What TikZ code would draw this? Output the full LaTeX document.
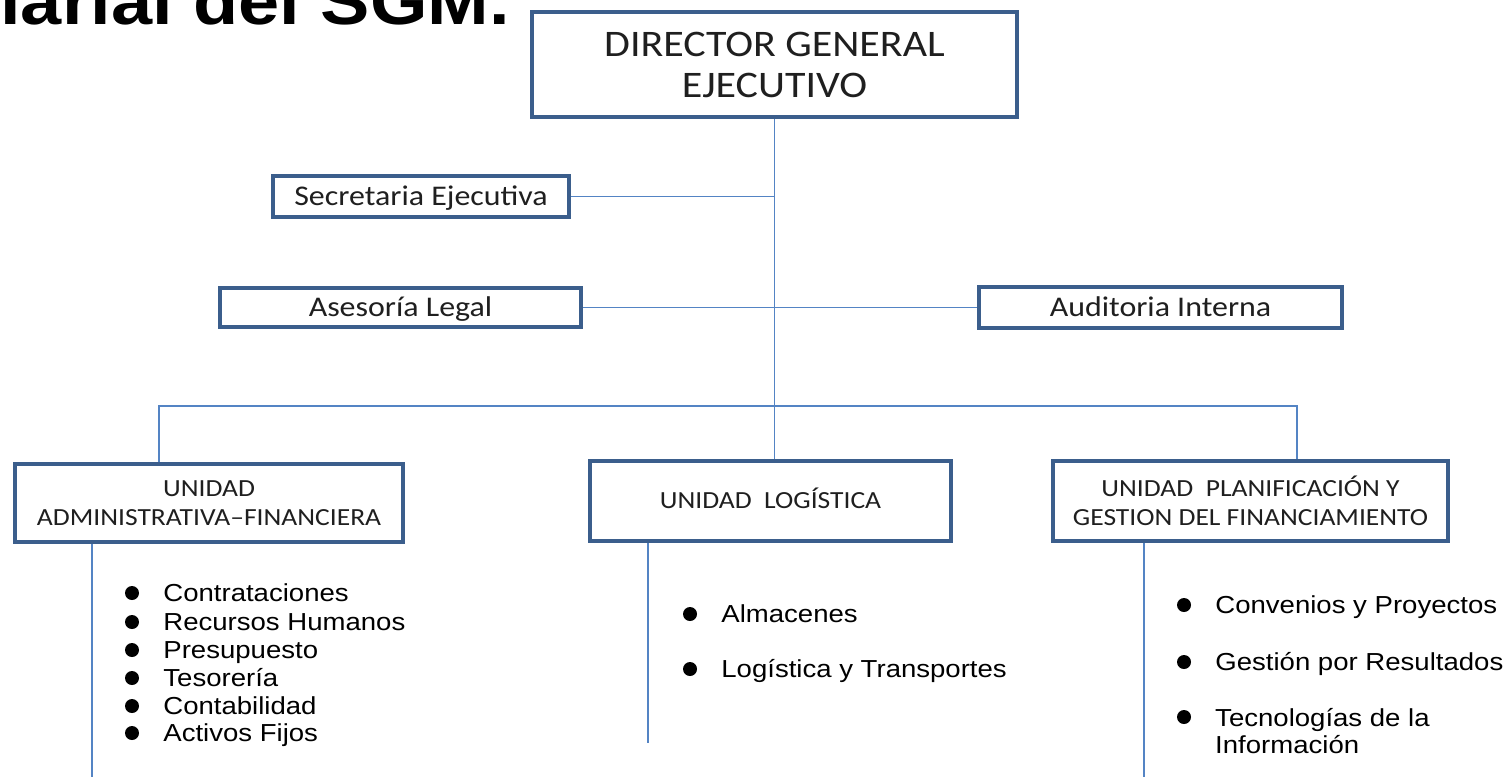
\documentclass[tikz,border=0pt]{standalone}
\usepackage{fontspec}
\setmainfont[FakeStretch=1.12]{Carlito}
\newfontfamily\arialfont[FakeStretch=1.12]{Liberation Sans}
\usepackage{tikz}
\usetikzlibrary{positioning}
\definecolor{box blue}{RGB}{59,94,140}
\definecolor{line blue}{RGB}{84,132,196}

\begin{document}
\begin{tikzpicture}[x = 1pt, y = -1pt,
		unit/.style = {draw = box blue, line width = 4pt, fill = white, align = center, inner sep = 0pt, text = black!88},
		oneline/.style = {text height = #1, text depth = 0pt},
		link/.style = {draw = line blue, line width = 1.3pt},
		listtext/.style = {inner sep = 0pt, font = \arialfont\fontsize{24.6}{27}\selectfont},
		item/.style = {listtext, anchor = west, text height = 17.6pt, text depth = 0pt},
		bulletdot/.style = {circle, fill = black, minimum size = 14pt, inner sep = 0pt}]
		\useasboundingbox (0, 0) rectangle (1509, 777);
		\clip (0, 0) rectangle (1509, 777);
		% title, cut by the top edge
		\node [anchor = base east, inner sep = 0pt, font = \arialfont\bfseries\fontsize{66}{70}\selectfont] (title) at (510, 24) {iarial del SGM.};
		% boxes
		\node [unit, minimum width = 485, minimum height = 105, font = \fontsize{37.5}{41}\selectfont] (dir) at (774.5, 64.5) {DIRECTOR GENERAL\\EJECUTIVO};
		\node [unit, oneline = 18.4pt, minimum width = 296, minimum height = 41, font = \fontsize{28.5}{32}\selectfont] (sec) at (421, 196.5) {Secretaria Ejecutiva};
		\node [unit, oneline = 18.4pt, minimum width = 361, minimum height = 39, font = \fontsize{28.5}{32}\selectfont] (leg) at (400.5, 307.5) {Asesoría Legal};
		\node [unit, oneline = 18.4pt, minimum width = 363, minimum height = 41, font = \fontsize{28.5}{32}\selectfont] (aud) at (1160.5, 307.5) {Auditoria Interna};
		\node [unit, minimum width = 388, minimum height = 78, font = \fontsize{24.6}{28.5}\selectfont] (adm) at (209, 503) {UNIDAD\\ADMINISTRATIVA--FINANCIERA};
		\node [unit, oneline = 15.8pt, minimum width = 361, minimum height = 80, font = \fontsize{24.6}{28.5}\selectfont] (log) at (770.5, 501) {UNIDAD\ \ LOGÍSTICA};
		\node [unit, minimum width = 395, minimum height = 80, font = \fontsize{24.6}{28.5}\selectfont] (pla) at (1250.5, 501) {UNIDAD\ \ PLANIFICACIÓN Y\\GESTION DEL FINANCIAMIENTO};
		% connectors
		\coordinate (bus left) at (159, 406);
		\coordinate (bus right) at (1297, 406);
		\coordinate (adm end) at (92, 777);
		\coordinate (log end) at (648, 743);
		\coordinate (pla end) at (1144, 777);
		\draw [link] (dir.south) -- (dir.south |- log.north);
		\draw [link] (sec) -- (sec -| dir.south);
		\draw [link] (leg) -- (aud);
		\draw [link] (bus left |- adm.north) -- (bus left) -- (bus right) -- (bus right |- pla.north);
		\draw [link] (adm end |- adm.south) -- (adm end);
		\draw [link] (log end |- log.south) -- (log end);
		\draw [link] (pla end |- pla.south) -- (pla end);
		% list under UNIDAD ADMINISTRATIVA
		\node [bulletdot] (b1) at (132, 593) {};
		\node [item, right = 24pt of b1] (contrat) {Contrataciones};
		\node [bulletdot] (b2) at (132, 622) {};
		\node [item, right = 24pt of b2] (rrhh) {Recursos Humanos};
		\node [bulletdot] (b3) at (132, 650) {};
		\node [item, right = 24pt of b3] (presu) {Presupuesto};
		\node [bulletdot] (b4) at (132, 678) {};
		\node [item, right = 24pt of b4] (teso) {Tesorería};
		\node [bulletdot] (b5) at (132, 706) {};
		\node [item, right = 24pt of b5] (conta) {Contabilidad};
		\node [bulletdot] (b6) at (132, 733) {};
		\node [item, right = 24pt of b6] (activos) {Activos Fijos};
		% list under UNIDAD LOGISTICA
		\node [bulletdot] (b7) at (690, 614) {};
		\node [item, right = 24pt of b7] (almacen) {Almacenes};
		\node [bulletdot] (b8) at (690, 669) {};
		\node [item, right = 24pt of b8] (transp) {Logística y Transportes};
		% list under UNIDAD PLANIFICACION
		\node [bulletdot] (b9) at (1184, 605) {};
		\node [item, right = 24pt of b9] (conven) {Convenios y Proyectos};
		\node [bulletdot] (b10) at (1184, 662) {};
		\node [item, right = 24pt of b10] (gestion) {Gestión por Resultados};
		\node [bulletdot] (b11) at (1184, 717) {};
		\node [listtext, align = left, anchor = base west] (tecno) at (1215, 753) {Tecnologías de la\\Información};
	\end{tikzpicture}
\end{document}
